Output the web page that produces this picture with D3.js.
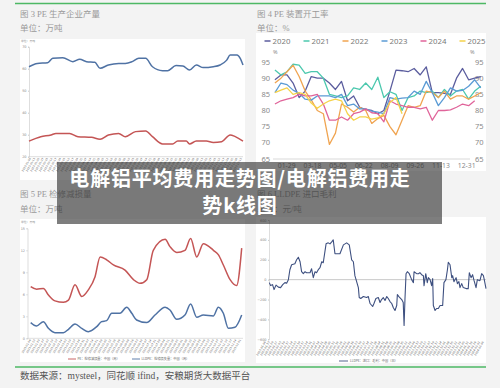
<!DOCTYPE html>
<html><head><meta charset="utf-8">
<script src="https://cdn.jsdelivr.net/npm/d3@7"></script>
<style>body{margin:0;background:#f3f3f3;}svg{display:block}</style>
</head><body>
<svg id="c" width="500" height="388"></svg>
<script>
// ---------- DATA ----------
// Fig 3: PE production (万吨)
const p1TimeBlue = [0,3.9,8.7,11.1,15.8,20.5,23.7,26.9,30.8,33.2,37.1,41.9,45,48.2,51.3,54.5,57.7,62.4,64.8,68.7,71.9,75,78.2,81.4,86.1,89.3,92.4,94,97.2,98.7,100];
const p1Blue = [60.9,62.4,62.7,64.7,65.0,63.2,64.3,63.2,62.9,60.2,61.7,62.4,62.4,63.2,64.7,64.7,60.9,59.1,59.1,61.4,61.2,59.4,61.7,60.5,60.9,61.7,63.9,66.2,66.2,64.7,61.7];
const p1TimeRed = [0,5.5,10.3,12.6,19,22.9,29.2,33.2,37.1,41.9,45,49.8,54.5,57.7,62.4,67.1,69.5,73.5,75,78.2,82.9,86.1,90,94,96.4,100];
const p1Red = [27.1,29.1,29.9,30.6,30.6,29.1,28.8,27.9,29.9,30.6,29.1,31.4,31.7,29.1,25.8,25.8,27.1,27.1,25.8,27.1,27.1,26.5,26.8,29.9,29.1,27.1];
const p1Ticks = [20,30,40,50,60,70];

// Fig 4: PE operating rate (%)
const p2Years = ["2020","2021","2022","2023","2024","2025"];
const y2020 = [89.5,91,91,88.5,84,86,90.5,90,90,88.5,86.5,89,83,84.5,81,80.3,80,79,80,86,92.5,92.3,92,93,91,93.5,85.5,85.5,85.3,85,90,93,89.5,90,90.5];
const y2021 = [92.5,91,92,94.3,94,91.5,92,92,90,85,84.5,84,84.5,87,86.5,88.5,86.5,90.3,84,85.8,85,80,84,84.5,86,85.5,86,84,86.5,84.5,86,86.5,83.5,86,87.5];
const y2022 = [88.5,90,92,94,90.5,86,83.3,80,79,69.5,73,82,81,79.5,81,80,76,77.5,78.5,75,72.5,77,81.5,81,81.5,86,85.5,84,86,83.5,84.5,84.5,83.5,84.5,85.5];
const y2023 = [85.5,88.5,88,86.3,85.3,83.5,83.2,84.5,84.5,84.5,84,85,81.5,82,80.5,80.5,79.8,79.5,79,84,83.5,83.8,84,86,85,89,85.5,81.5,84,87,86,86.2,87.5,89.5,87];
const y2024 = [82,83,83.5,84,85,84.5,84.5,85,82,77,77,78,77,79,79.5,80.5,79.3,79,76.5,83,82,81.5,81,81,80.5,81,77,80,80,80.2,81,82,81.5,83];
const y2025 = [85.5,86.3,87,85,85.5,85,82.3,80.7,82,83,83.5,83,79,77,78,78,77.3,77.7,79,82.5,84,79];
const p2Labels = ["01-29","03-18","05-05","06-22","08-09","09-26","11-13","12-31"];
const p2LabelDays = [29,77,125,173,221,269,317,365];
const p2Ticks = [65,70,75,80,85,90,95];

// Fig 5: PE maintenance loss (万吨)
const p3Time = [0,2.8,6,8.4,11.5,15.5,17.9,21,24.2,27.3,30.5,32.9,36,39.2,44.7,48.7,51.8,55,58.1,63.7,66,69.2,73.1,75.8,78.7,81.8,86.6,88.9,91.3,94.5,97.6,100];
const p3Red = [7.05,6.7,6.8,5.9,5.1,4.9,5.2,7.3,5.7,6.6,8.4,11.1,10.7,10.0,9.3,8.0,7.5,8.0,12.0,13.5,12.5,11.7,12.0,13.6,11.1,12.9,12.0,11.4,10.0,8.0,7.2,12.3];
const p3TimeBlue = [0,2.8,6,8.4,11.5,15.5,17.9,21,24.2,27.3,31.3,33.6,36,38.4,42.3,45.5,47.9,50.2,55,58.9,63.7,66,69.2,73.1,75.8,78.7,81.8,86.6,88.9,91.3,93.7,96.8,100];
const p3Blue = [2.14,1.68,2.27,1.36,0.77,0.77,1.23,1.95,1.36,0.91,1.59,2.27,2.41,3.41,3.41,4.23,3.41,2.5,2.14,3.18,4.23,3.86,2.59,3.18,4.68,2.86,3.18,3.05,4.23,3.41,1.36,1.5,3.18];
const p3Ticks = [0,3,6,9,12,15];

// Fig 6: LLDPE import margin (元/吨)
const p4Time = [0,0.6,1.5,2.2,3.1,4.2,5.2,6.2,7.2,8,
 8.8,9.5,10.3,11.8,12.6,13.4,14.2,14.9,15.7,16.5,
 17.2,18.8,19.5,20.3,21.1,21.8,22.6,23.4,24.2,24.9,
 26.2,27.2,28,28.8,29.5,30.3,31.4,32.6,34.2,35.7,
 36.9,38,38.8,39.5,40.3,41.1,41.5,42.2,43.4,44.9,
 45.7,46.5,47.7,48.3,49.2,50.3,51.1,51.8,52.6,53.4,
 54.2,54.9,55.7,56.5,57.2,58,58.8,59.1,59.8,61.1,
 61.8,62.2,62.6,63.1,63.7,64.6,65.7,66.5,66.8,68,
 68.8,69.5,70.3,71.1,71.4,72.2,72.9,73.4,74.2,74.9,
 75.4,75.7,76.5,77.2,78,78.8,80,80.6,81.5,82.2,
 82.6,83.4,84.2,84.6,85.2,86.2,86.8,87.5,88,88.8,
 89.5,90.8,91.8,92.3,93.1,93.8,94.5,95.4,96,97.2,
 98,98.8,99.2,100];
const p4Margin = [-30,-60,-50,-100,-55,-75,-80,-50,-30,-35,
 0,100,150,160,200,225,180,80,60,80,
 70,70,110,20,80,70,100,120,180,170,
 360,370,360,380,400,260,260,260,350,370,
 350,200,180,40,-20,-80,-180,-190,-170,-180,
 -170,-240,-270,-240,-190,-180,-230,-200,-180,-210,
 -170,-190,-220,-240,-280,-310,-260,-150,-170,-200,
 -230,-460,-200,60,80,60,0,-30,80,60,
 60,70,50,40,-60,60,-30,20,0,-60,
 10,-260,-310,-290,-290,-260,-260,-30,0,100,
 175,150,20,40,-20,20,-40,-20,-80,-40,
 -80,-90,-90,70,20,50,-10,-80,0,-10,
 60,40,0,-90];
const p4Ticks = [-600,-400,-200,0,200,400,600];

// ---------- DRAW ----------
const svg = d3.select("#c");
const CJK = "'Noto Sans CJK SC','Noto Sans',sans-serif";
const SERIF = "'Liberation Serif','DejaVu Serif','Noto Sans CJK SC',serif";
svg.append("rect").attr("width",500).attr("height",388).attr("fill","#f3f3f3");

// green rules
[3.5, 367].forEach(y => svg.append("line").attr("x1",15).attr("x2",486).attr("y1",y).attr("y2",y)
  .attr("stroke","#4db864").attr("stroke-width",1.6));

// titles
const titles = [
  {x:20,y:17,t:"图 3 PE 生产企业产量"},{x:20,y:31,t:"单位：万吨"},
  {x:257,y:17,t:"图 4 PE 装置开工率"},{x:257,y:31,t:"单位：%"},
  {x:20,y:197,t:"图 5 PE 检修减损量"},{x:20,y:212,t:"单位：万吨"},
  {x:257,y:197,t:"图 6 LLDPE 进口毛利"},{x:257,y:212,t:"单位：元/吨"}];
svg.selectAll("text.title").data(titles).join("text").attr("class","title")
  .attr("x",d=>d.x).attr("y",d=>d.y).text(d=>d.t)
  .attr("font-family",SERIF).attr("font-size",8.5).attr("fill","#9a9a9a");

// white boxes
[[20,39,225,141],[256,33,230,138],[20,219,225,143],[256,217,230,146]].forEach(b =>
  svg.append("rect").attr("x",b[0]).attr("y",b[1]).attr("width",b[2]).attr("height",b[3]).attr("fill","#fff"));

function hatch(g, n, x0, x1, y, fs){
  const start = new Date(2023,0,6);
  const dates = d3.range(n).map(i => d3.timeDay.offset(start, i*7));
  const xs = d3.scaleLinear().domain([0,n-1]).range([x0,x1]);
  g.selectAll("text.h").data(dates).join("text").attr("class","h")
   .attr("transform",(d,i)=>`translate(${xs(i)},${y}) rotate(-60)`)
   .attr("text-anchor","end").attr("font-size",fs).attr("font-family","'DejaVu Sans'")
   .attr("fill","#555").text(d=>d3.timeFormat("%Y-%m-%d")(d));
}
function tinyAxis(g, scale, ticks, x){
  const ax = g.append("g").attr("transform",`translate(${x},0)`)
   .call(d3.axisLeft(scale).tickValues(ticks).tickSize(1).tickPadding(1.5));
  ax.select(".domain").attr("stroke","#c8c8c8").attr("stroke-width",0.6);
  ax.selectAll(".tick line").attr("stroke","#c8c8c8");
  ax.selectAll("text").attr("font-size",3.4).attr("fill","#888").attr("font-family","'DejaVu Sans'");
}

// ---- Panel 1 ----
{
  const g = svg.append("g");
  const x = d3.scaleLinear().domain([0,100]).range([29,243]);
  const y = d3.scaleLinear().domain([20,70]).range([156.7,46.7]);
  tinyAxis(g, y, p1Ticks, 29);
  g.append("line").attr("x1",29).attr("x2",243).attr("y1",156.7).attr("y2",156.7).attr("stroke","#c8c8c8").attr("stroke-width",0.6);
  g.append("text").attr("x",21).attr("y",42).text("单位：万吨").attr("font-size",2.8).attr("fill","#888").attr("font-family",CJK);
  const line = d3.line().curve(d3.curveMonotoneX);
  g.append("path").attr("d",line(p1TimeBlue.map((t,i)=>[x(t),y(p1Blue[i])]))).attr("fill","none").attr("stroke","#4f72a4").attr("stroke-width",1.5);
  g.append("path").attr("d",line(p1TimeRed.map((t,i)=>[x(t),y(p1Red[i])]))).attr("fill","none").attr("stroke","#c45555").attr("stroke-width",1.5);
  hatch(g, 50, 31, 242, 158.5, 2.7);
}

// ---- Panel 2 ----
{
  const g = svg.append("g");
  const x = d3.scaleLinear().domain([29,365]).range([286.7,466.7]);
  const y = d3.scaleLinear().domain([65,95]).range([159,62]);
  const days = d3.range(35).map(i => 7 + i*11.3);
  const colors = ["#5b5d9e","#4cc8ae","#f0a450","#5b9bd5","#e0649a","#f5d24a"];
  const series = [y2020,y2021,y2022,y2023,y2024,y2025];
  g.append("line").attr("x1",273).attr("x2",470).attr("y1",y(65)).attr("y2",y(65)).attr("stroke","#cfcfcf").attr("stroke-width",0.8);
  g.selectAll("text.yl").data(p2Ticks).join("text").attr("class","yl")
   .attr("x",270).attr("y",d=>y(d)+2.6).attr("text-anchor","end").text(d=>d)
   .attr("font-size",7.5).attr("fill","#8a8a8a").attr("font-family","'Noto Sans'");
  g.selectAll("text.yr").data(p2Ticks).join("text").attr("class","yr")
   .attr("x",475).attr("y",d=>y(d)+2.6).text(d=>d)
   .attr("font-size",7.5).attr("fill","#8a8a8a").attr("font-family","'Noto Sans'");
  g.selectAll("text.xl").data(p2Labels).join("text").attr("class","xl")
   .attr("x",(d,i)=>x(p2LabelDays[i])).attr("y",167.5).attr("text-anchor","middle").text(d=>d)
   .attr("font-size",6.8).attr("fill","#8a8a8a").attr("font-family","'Noto Sans'");
  [273,470].forEach(px => g.append("text").attr("x",px).attr("y",54).text("%").attr("font-size",5.5).attr("fill","#8a8a8a").attr("font-family","'Noto Sans'"));
  const line = d3.line().curve(d3.curveLinear);
  series.forEach((s,k) => g.append("path")
    .attr("d", line(s.map((v,i)=>[x(days[i]), y(v)])))
    .attr("fill","none").attr("stroke",colors[k]).attr("stroke-width",1.3).attr("stroke-linejoin","round"));
  // legend
  const lg = g.selectAll("g.lg").data(p2Years).join("g").attr("class","lg")
    .attr("transform",(d,i)=>`translate(${264.5 + i*39},41)`);
  lg.append("line").attr("x1",0).attr("x2",6).attr("y1",0).attr("y2",0).attr("stroke",(d,i)=>colors[i]).attr("stroke-width",1.5);
  lg.append("text").attr("x",8).attr("y",2.8).text(d=>d).attr("font-size",7.8).attr("fill","#7a7a7a").attr("font-family","'Noto Sans'");
}

// ---- Panel 3 ----
{
  const g = svg.append("g");
  const x = d3.scaleLinear().domain([0,100]).range([30.7,241.7]);
  const y = d3.scaleLinear().domain([0,15]).range([338.3,228.3]);
  tinyAxis(g, y, p3Ticks, 27.5);
  g.append("line").attr("x1",27.5).attr("x2",243).attr("y1",338.3).attr("y2",338.3).attr("stroke","#c8c8c8").attr("stroke-width",0.6);
  g.append("text").attr("x",21).attr("y",223).text("单位：万吨").attr("font-size",2.8).attr("fill","#888").attr("font-family",CJK);
  const line = d3.line().curve(d3.curveMonotoneX);
  g.append("path").attr("d",line(p3Time.map((t,i)=>[x(t),y(p3Red[i])]))).attr("fill","none").attr("stroke","#c45555").attr("stroke-width",1.5);
  g.append("path").attr("d",line(p3TimeBlue.map((t,i)=>[x(t),y(p3Blue[i])]))).attr("fill","none").attr("stroke","#4f72a4").attr("stroke-width",1.5);
  hatch(g, 48, 31, 241, 340, 2.7);
  const lg = [{c:"#c45555",t:"PE：检修减损量：中国（周）",x:68},{c:"#4f72a4",t:"LLDPE：检修损失量：中国（周）",x:132}];
  lg.forEach(l => {
    g.append("line").attr("x1",l.x).attr("x2",l.x+8).attr("y1",359).attr("y2",359).attr("stroke",l.c).attr("stroke-width",0.9);
    g.append("text").attr("x",l.x+9.5).attr("y",360.2).text(l.t).attr("font-size",3.2).attr("fill","#666").attr("font-family",CJK);
  });
}

// ---- Panel 4 ----
{
  const g = svg.append("g");
  const x = d3.scaleLinear().domain([0,100]).range([269.3,486]);
  const y = d3.scaleLinear().domain([-600,600]).range([339.3,220]);
  tinyAxis(g, y, p4Ticks, 269);
  g.append("line").attr("x1",269).attr("x2",486).attr("y1",y(0)).attr("y2",y(0)).attr("stroke","#b0b0b0").attr("stroke-width",0.7);
  const line = d3.line();
  g.append("path").attr("d",line(p4Time.map((t,i)=>[x(t),y(p4Margin[i])]))).attr("fill","none").attr("stroke","#3e5080").attr("stroke-width",1.1).attr("stroke-linejoin","round");
  hatch(g, 58, 266, 484, 342, 2.8);
  g.append("line").attr("x1",339).attr("x2",348).attr("y1",361).attr("y2",361).attr("stroke","#3e5080").attr("stroke-width",0.9);
  g.append("text").attr("x",350).attr("y",362.2).text("LLDPE：进口：毛利：中国（日）").attr("font-size",3.2).attr("fill","#666").attr("font-family",CJK);
}

// footer
svg.append("text").attr("x",20).attr("y",378.5).text("数据来源：mysteel，同花顺 ifind，安粮期货大数据平台")
  .attr("font-family",SERIF).attr("font-size",9.5).attr("fill","#555");

// overlay title
svg.append("rect").attr("x",57).attr("y",162).attr("width",385).attr("height",62).attr("fill","rgba(40,40,40,0.6)");
const ov = ["电解铝平均费用走势图/电解铝费用走","势k线图"];
svg.selectAll("text.ov").data(ov).join("text").attr("class","ov")
  .attr("x",240).attr("y",(d,i)=>186 + i*26.5).attr("text-anchor","middle").text(d=>d)
  .attr("font-family",CJK).attr("font-weight","bold").attr("font-size",20).attr("letter-spacing",0.8).attr("fill","#fff");
</script>
</body></html>
